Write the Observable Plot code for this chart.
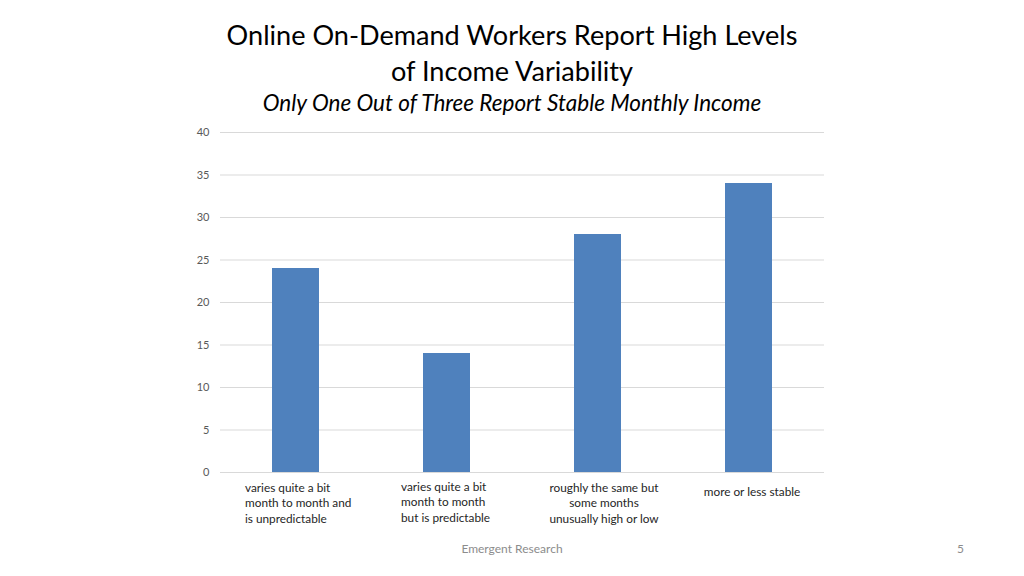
<!DOCTYPE html>
<html><head><meta charset="utf-8">
<script src="https://cdn.jsdelivr.net/npm/d3@7"></script>
<script src="https://cdn.jsdelivr.net/npm/@observablehq/plot@0.6"></script>
<style>
html,body{margin:0;padding:0;background:#fff;width:1024px;height:576px;overflow:hidden;position:relative;font-family:Lato,"Open Sans",sans-serif;}
.t{position:absolute;left:0;width:1024px;text-align:center;color:#000;}
#t1{top:17px;font-size:27.1px;line-height:36px;}
#t2{top:88px;font-size:22.5px;font-style:italic;line-height:30px;}
#chart{position:absolute;left:0;top:120px;}
#foot{position:absolute;top:541px;left:0;width:1024px;text-align:center;font-size:12px;color:#8c8c8c;}
#page{position:absolute;top:541px;left:957px;font-size:12px;color:#8c8c8c;}
</style></head>
<body>
<div class="t" id="t1">Online On-Demand Workers Report High Levels<br>of Income Variability</div>
<div class="t" id="t2">Only One Out of Three Report Stable Monthly Income</div>
<div id="chart"></div>
<div id="foot">Emergent Research</div>
<div id="page">5</div>
<script>
const categories = [
  "varies quite a bit\nmonth to month and\nis unpredictable",
  "varies quite a bit\nmonth to month\nbut is predictable",
  "roughly the same but\nsome months\nunusually high or low",
  "more or less stable"
];
const values = [24, 14, 28, 34];
const yTicks = [0, 5, 10, 15, 20, 25, 30, 35, 40];

const data = categories.map((c, i) => ({category: c, value: values[i], idx: i}));
const fs = 11.8;

const chart = Plot.plot({
  width: 1024,
  height: 410,
  marginLeft: 220,
  marginRight: 200,
  marginTop: 12,
  marginBottom: 58,
  style: {fontFamily: "Lato, 'Open Sans', sans-serif", fontSize: "11px", background: "transparent"},
  x: {domain: categories, paddingInner: 0.689, paddingOuter: 0.3445, axis: null},
  y: {domain: [0, 40], axis: null, label: null},
  marks: [
    Plot.ruleY(yTicks, {stroke: "#d9d9d9", strokeWidth: 1}),
    Plot.axisY({ticks: yTicks, tickSize: 0, tickPadding: 11, color: "#595959", fontSize: 11, label: null}),
    Plot.barY(data, {x: "category", y: "value", fill: "#4f81bd"}),
    Plot.text(data.filter(d => d.idx === 0), {x: "category", y: 0, text: "category", textAnchor: "start", lineAnchor: "top", dx: -51, dy: 8, lineHeight: 1.32, fill: "#262626", fontSize: fs}),
    Plot.text(data.filter(d => d.idx === 1), {x: "category", y: 0, text: "category", textAnchor: "start", lineAnchor: "top", dx: -46, dy: 7, lineHeight: 1.32, fill: "#262626", fontSize: fs}),
    Plot.text(data.filter(d => d.idx === 2), {x: "category", y: 0, text: "category", textAnchor: "middle", lineAnchor: "top", dx: 6, dy: 8, lineHeight: 1.32, fill: "#262626", fontSize: fs}),
    Plot.text(data.filter(d => d.idx === 3), {x: "category", y: 0, text: "category", textAnchor: "middle", lineAnchor: "top", dx: 3, dy: 12, lineHeight: 1.32, fill: "#262626", fontSize: fs})
  ]
});
document.getElementById("chart").appendChild(chart);
</script>
</body></html>
